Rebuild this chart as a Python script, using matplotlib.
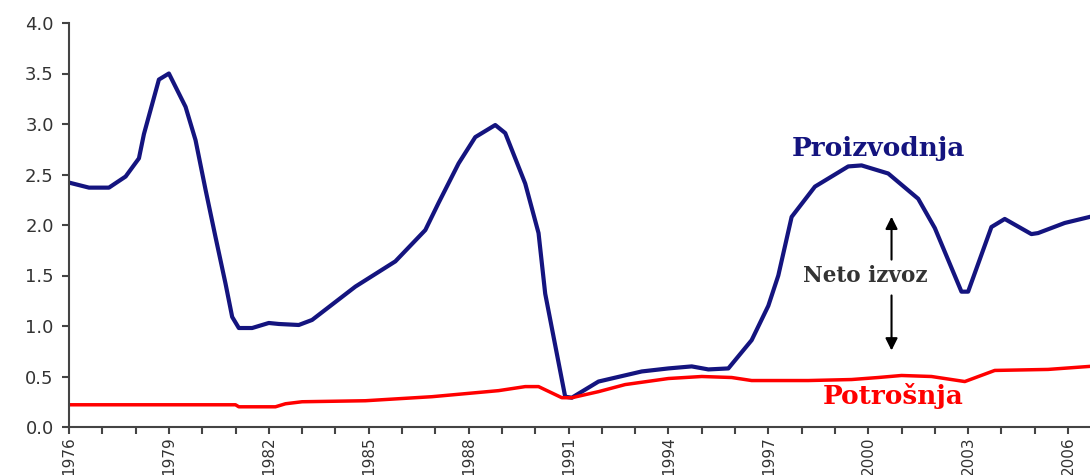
import numpy as np
import matplotlib.pyplot as plt

# values
years_prod = [1976.0, 1976.6, 1977.2, 1977.7, 1978.1, 1978.25, 1978.7, 1979.0, 1979.5, 1979.8,
              1980.1, 1980.4, 1980.7, 1980.9, 1981.1, 1981.5, 1982.0, 1982.3, 1982.9, 1983.3,
              1984.6, 1985.8, 1986.7, 1987.1, 1987.7, 1988.2, 1988.8, 1989.1, 1989.7, 1990.1,
              1990.3, 1990.9, 1991.1, 1991.9, 1993.2, 1994.0, 1994.7, 1995.2, 1995.8, 1996.5,
              1997.0, 1997.3, 1997.7, 1998.4, 1999.4, 1999.8, 2000.6, 2001.5, 2002.0, 2002.8,
              2003.0, 2003.7, 2004.1, 2004.9, 2005.1, 2005.9, 2006.65]
proizvodnja = [2.42, 2.37, 2.37, 2.48, 2.66, 2.90, 3.44, 3.50, 3.17, 2.84,
               2.35, 1.88, 1.42, 1.09, 0.98, 0.98, 1.03, 1.02, 1.01, 1.06,
               1.39, 1.64, 1.95, 2.22, 2.61, 2.87, 2.99, 2.91, 2.41, 1.92,
               1.32, 0.30, 0.29, 0.45, 0.55, 0.58, 0.60, 0.57, 0.58, 0.86,
               1.20, 1.50, 2.08, 2.38, 2.58, 2.59, 2.51, 2.26, 1.97, 1.34,
               1.34, 1.98, 2.06, 1.91, 1.92, 2.02, 2.08]

years_potr = [1976.0, 1981.0, 1981.1, 1982.2, 1982.5, 1983.0, 1984.9, 1986.9, 1988.9, 1989.7,
              1990.1, 1990.8, 1991.1, 1991.9, 1992.7, 1994.0, 1995.0, 1995.9, 1996.5, 1998.2,
              1999.5, 2000.3, 2001.0, 2001.9, 2002.9, 2003.8, 2005.4, 2006.65]
potrosnja = [0.22, 0.22, 0.20, 0.20, 0.23, 0.25, 0.26, 0.30, 0.36, 0.40,
             0.40, 0.29, 0.29, 0.35, 0.42, 0.48, 0.50, 0.49, 0.46, 0.46,
             0.47, 0.49, 0.51, 0.50, 0.45, 0.56, 0.57, 0.60]

tick_years = list(range(1976, 2007, 3))
y_ticks = [0.0, 0.5, 1.0, 1.5, 2.0, 2.5, 3.0, 3.5, 4.0]

fig = plt.figure(figsize=(10.9, 4.75), dpi=100)
ax = fig.add_axes([69/1090, 48/475, 1 - 69/1090, 404/475])

ax.plot(years_prod, proizvodnja, color='#14147f', linewidth=3,
        solid_joinstyle='round')
ax.plot(years_potr, potrosnja, color='#ff0000', linewidth=2.5)

ax.set_xlim(1976, 2006.66)
ax.set_ylim(0, 4.0)
ax.set_yticks(y_ticks)
ax.set_yticklabels([f'{v:.1f}' for v in y_ticks])
ax.set_xticks(tick_years)
ax.set_xticklabels([str(y) for y in tick_years], rotation=90)
ax.set_xticks(range(1976, 2007), minor=True)

for side in ['top', 'right']:
    ax.spines[side].set_visible(False)
for side in ['left', 'bottom']:
    ax.spines[side].set_color('#444444')
    ax.spines[side].set_linewidth(1.5)
ax.tick_params(axis='both', which='both', direction='out', color='#444444',
               width=1.5, length=5, labelcolor='#333333')
ax.tick_params(axis='y', labelsize=13, pad=6)
ax.tick_params(axis='x', labelsize=11, pad=2)

serif = 'DejaVu Serif'
ax.text(2000.3, 2.76, 'Proizvodnja', color='#14147f', fontsize=19,
        fontweight='bold', family=serif, ha='center', va='center')
ax.text(1999.9, 1.50, 'Neto izvoz', color='#333333', fontsize=15.5,
        fontweight='bold', family=serif, ha='center', va='center')
ax.text(2000.75, 0.31, 'Potrošnja', color='#ff0000', fontsize=19,
        fontweight='bold', family=serif, ha='center', va='center')

ax.annotate('', xy=(2000.7, 2.11), xytext=(2000.7, 1.63),
            arrowprops=dict(arrowstyle='-|>', color='black', lw=1.5, mutation_scale=18))
ax.annotate('', xy=(2000.7, 0.73), xytext=(2000.7, 1.33),
            arrowprops=dict(arrowstyle='-|>', color='black', lw=1.5, mutation_scale=18))

fig.savefig('out.png', dpi=100)
